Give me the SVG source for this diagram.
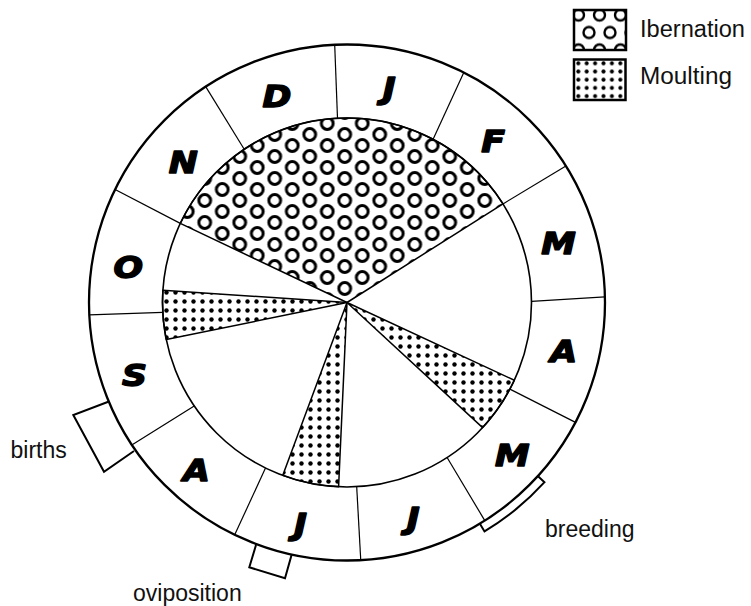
<svg xmlns="http://www.w3.org/2000/svg" width="751" height="606" viewBox="0 0 751 606">
<style>
.ring{fill:none;stroke:#000;stroke-width:2.3}
.inner{fill:none;stroke:#000;stroke-width:1.6}
.div{stroke:#000;stroke-width:1.2;fill:none}
.wedge{stroke:#000;stroke-width:1.5;stroke-linejoin:round}
.month{font-family:"DejaVu Sans",sans-serif;font-weight:bold;font-style:italic;font-size:31px;text-anchor:middle;fill:#000;stroke:#000;stroke-width:1.5;stroke-linejoin:round}
.label{font-family:"Liberation Sans",Arial,sans-serif;font-size:23px;fill:#111}
.brk{fill:none;stroke:#000;stroke-width:2;stroke-linejoin:miter}
.box{fill:none;stroke:#000;stroke-width:2.5}
.hc{fill:none;stroke:#000;stroke-width:3}
</style>
<defs>
<pattern id="hib" patternUnits="userSpaceOnUse" x="3.5" y="8" width="35" height="22">
<circle class="hc" cx="8.75" cy="5.5" r="5.9"/>
<circle class="hc" cx="26.25" cy="16.5" r="5.9"/>
<circle class="hc" cx="26.25" cy="-5.5" r="5.9"/>
<circle class="hc" cx="-8.75" cy="16.5" r="5.9"/>
<circle class="hc" cx="43.75" cy="16.5" r="5.9"/>
<circle class="hc" cx="8.75" cy="27.5" r="5.9"/>
</pattern>
<pattern id="dots" patternUnits="userSpaceOnUse" x="0" y="0" width="9" height="9">
<circle cx="4.5" cy="4.5" r="2.2" fill="#000"/>
</pattern>
<pattern id="hibL" patternUnits="userSpaceOnUse" x="568" y="9.5" width="21" height="35">
<circle cx="10.5" cy="5.5" r="5.5" fill="none" stroke="#000" stroke-width="2.4"/>
<circle cx="0" cy="23" r="5.5" fill="none" stroke="#000" stroke-width="2.4"/>
<circle cx="21" cy="23" r="5.5" fill="none" stroke="#000" stroke-width="2.4"/>
<circle cx="10.5" cy="40.5" r="5.5" fill="none" stroke="#000" stroke-width="2.4"/>
</pattern>
<pattern id="dotsL" patternUnits="userSpaceOnUse" x="574.1" y="59.2" width="8.4" height="8.2">
<circle cx="4.2" cy="4.1" r="2" fill="#000"/>
</pattern>
</defs>
<rect width="751" height="606" fill="#fff"/>

<g id="ring">
<circle class="ring" cx="347" cy="302.5" r="258"/>
<circle class="inner" cx="347" cy="302.5" r="184.5"/>
</g>

<g id="wedges">
<path id="wedge-ibernation" class="wedge" fill="url(#hib)" d="M347,302.5 L180.3,223.4 A184.5,184.5 0 0 1 503,203.9 Z"/>
<path id="wedge-moult-1" class="wedge" fill="url(#dots)" d="M347,302.5 L162.9,290.3 A184.5,184.5 0 0 0 166.3,339.6 Z"/>
<path id="wedge-moult-2" class="wedge" fill="url(#dots)" d="M347,302.5 L282.7,475.4 A184.5,184.5 0 0 0 338.6,486.8 Z"/>
<path id="wedge-moult-3" class="wedge" fill="url(#dots)" d="M347,302.5 L514.3,380.2 A184.5,184.5 0 0 1 482.6,427.6 Z"/>
</g>

<g id="connectors">
<line class="div" x1="334.7" y1="44.8" x2="337.5" y2="118.2"/>
<line class="div" x1="205.7" y1="86.6" x2="244.2" y2="149.3"/>
<line class="div" x1="115.1" y1="189.5" x2="180.3" y2="223.4"/>
<line class="div" x1="463.8" y1="72.5" x2="433.1" y2="139.3"/>
<line class="div" x1="565.9" y1="165.9" x2="503" y2="203.9"/>
<line class="div" x1="604.9" y1="296.8" x2="531.5" y2="301.3"/>
<line class="div" x1="89.3" y1="314.8" x2="162.8" y2="312.4"/>
<line class="div" x1="131.8" y1="444.9" x2="194.2" y2="405.9"/>
<line class="div" x1="234.7" y1="534.8" x2="265.5" y2="468.1"/>
<line class="div" x1="360.7" y1="559.3" x2="356.7" y2="486.7"/>
<line class="div" x1="484.8" y1="520.6" x2="447.1" y2="457.5"/>
<line class="div" x1="575.5" y1="422.4" x2="509.9" y2="389.1"/>
</g>

<g id="month-J1"><text class="month" transform="translate(389.2,99) scale(1.12,1)">J</text></g>
<g id="month-F"><text class="month" transform="translate(493.2,152.4) scale(1.12,1)">F</text></g>
<g id="month-M1"><text class="month" transform="translate(558.6,254) scale(1.12,1)">M</text></g>
<g id="month-A1"><text class="month" transform="translate(563.8,361.5) scale(1.12,1)">A</text></g>
<g id="month-M2"><text class="month" transform="translate(512.2,465.8) scale(1.12,1)">M</text></g>
<g id="month-J2"><text class="month" transform="translate(413.3,528.5) scale(1.12,1)">J</text></g>
<g id="month-J3"><text class="month" transform="translate(300.4,534.5) scale(1.12,1)">J</text></g>
<g id="month-A2"><text class="month" transform="translate(196.4,481) scale(1.12,1)">A</text></g>
<g id="month-S"><text class="month" transform="translate(134.4,385.5) scale(1.12,1)">S</text></g>
<g id="month-O"><text class="month" transform="translate(128.2,278) scale(1.12,1)">O</text></g>
<g id="month-N"><text class="month" transform="translate(183.3,173) scale(1.12,1)">N</text></g>
<g id="month-D"><text class="month" transform="translate(277,107) scale(1.12,1)">D</text></g>

<g id="births">
<polyline class="brk" points="108.3,401.7 73.3,415 104,471.7 134,451"/>
<text class="label" x="10.5" y="458">births</text>
</g>
<g id="oviposition">
<polyline class="brk" points="256,545 249.3,567.3 285,578.3 291.7,554.5"/>
<text class="label" x="133" y="601">oviposition</text>
</g>
<g id="breeding">
<path class="brk" d="M479.9,523.7 L484.5,531.4 A267,267 0 0 0 544.5,482.2 L537.8,476.1"/>
<text class="label" x="545" y="537">breeding</text>
</g>

<g id="legend-ibernation">
<rect x="574" y="10" width="52" height="40" fill="url(#hibL)"/>
<rect class="box" x="574" y="10" width="52" height="40"/>
<text class="label" x="640" y="37" textLength="105" lengthAdjust="spacingAndGlyphs">Ibernation</text>
</g>
<g id="legend-moulting">
<rect x="574" y="59.5" width="51.5" height="40.5" fill="url(#dotsL)"/>
<rect class="box" x="574" y="59.5" width="51.5" height="40.5"/>
<text class="label" x="640" y="84" textLength="92" lengthAdjust="spacingAndGlyphs">Moulting</text>
</g>
</svg>
